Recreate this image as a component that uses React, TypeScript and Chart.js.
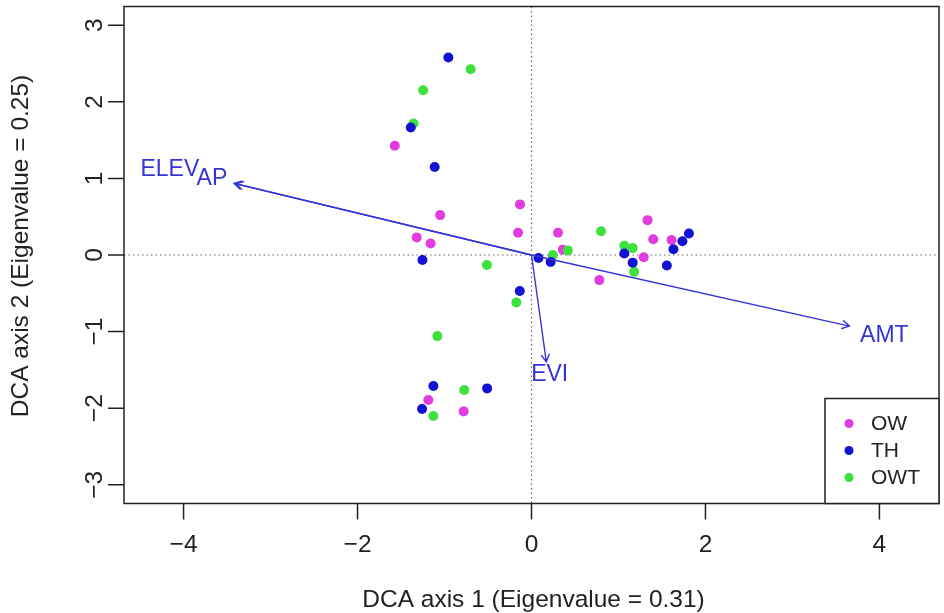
import { useEffect, useRef } from "react";
import { Chart, registerables } from "chart.js";

Chart.register(...registerables);

// Site scores on the first two DCA axes, by group
const owX = [-1.572, -0.132, -1.05, -0.155, -1.32, -1.16, 0.304, 0.36, 0.78, 1.334, 1.40, 1.29, 1.61, -1.186, -0.78];
const owY = [1.426, 0.661, 0.521, 0.29, 0.23, 0.151, 0.29, 0.07, -0.328, 0.455, 0.205, -0.03, 0.197, -1.894, -2.042];

const thX = [-0.956, -1.388, -1.113, -1.254, 0.08, 0.22, 1.067, 1.163, 1.632, 1.556, 1.735, 1.81, -0.135, -1.128, -0.51, -1.258];
const thY = [2.58, 1.666, 1.148, -0.065, -0.04, -0.09, 0.02, -0.1, 0.075, -0.138, 0.18, 0.28, -0.471, -1.711, -1.742, -2.012];

const owtX = [-0.70, -1.246, -1.357, -0.513, 0.246, 0.418, 0.80, 1.067, 1.163, 1.18, -0.174, -1.082, -0.773, -1.128];
const owtY = [2.427, 2.152, 1.718, -0.13, 0.0, 0.06, 0.31, 0.12, 0.09, -0.22, -0.619, -1.059, -1.764, -2.103];

const groupNames = ["OW", "TH", "OWT"];
const groupColors = ["#e03ce0", "#1212d0", "#3de03d"];

// Environmental vectors (envfit arrows) and their label positions
const vectorNames = ["ELEV", "AP", "AMT", "EVI"];
const vectorX = [-3.40, -3.42, 3.655, 0.17];
const vectorY = [0.93, 0.935, -0.928, -1.394];
const labelX = [-4.158, -3.674, 4.057, 0.209];
const labelY = [1.108, 0.991, -1.052, -1.567];

const xTicks = [-4, -2, 0, 2, 4];
const yTicks = [-3, -2, -1, 0, 1, 2, 3];
const xTitle = "DCA axis 1 (Eigenvalue = 0.31)";
const yTitle = "DCA axis 2 (Eigenvalue = 0.25)";

const X_MIN = -4.685;
const X_MAX = 4.685;
const Y_MIN = -3.245;
const Y_MAX = 3.245;

const FONT = '"Liberation Sans", Arial, Helvetica, sans-serif';
const AXIS_COLOR = "#222222";
const VECTOR_COLOR = "#3434d6";
const AXIS_FONT_SIZE = 24.5;

function toPoints(xs: number[], ys: number[]) {
  return xs.map((x, i) => ({ x, y: ys[i] }));
}

function label(
  ctx: CanvasRenderingContext2D,
  text: string,
  x: number,
  y: number,
  size: number,
  color: string,
  rotate = 0
) {
  ctx.save();
  ctx.translate(x, y);
  if (rotate) ctx.rotate(rotate);
  ctx.font = `${size}px ${FONT}`;
  ctx.fillStyle = color;
  ctx.textAlign = "center";
  ctx.textBaseline = "middle";
  ctx.fillText(text, 0, 0);
  ctx.restore();
}

const ordinationPlugin = {
  id: "ordination",
  beforeDatasetsDraw(chart: any) {
    const { ctx, chartArea, scales } = chart;
    const x0 = scales.x.getPixelForValue(0);
    const y0 = scales.y.getPixelForValue(0);
    ctx.save();
    ctx.strokeStyle = "#666666";
    ctx.lineWidth = 1.2;
    ctx.setLineDash([1.5, 3]);
    ctx.beginPath();
    ctx.moveTo(x0, chartArea.top);
    ctx.lineTo(x0, chartArea.bottom);
    ctx.moveTo(chartArea.left, y0);
    ctx.lineTo(chartArea.right, y0);
    ctx.stroke();
    ctx.restore();
  },
  afterDatasetsDraw(chart: any) {
    const { ctx, chartArea, scales } = chart;
    const xs = scales.x;
    const ys = scales.y;
    const ox = xs.getPixelForValue(0);
    const oy = ys.getPixelForValue(0);

    // vectors
    ctx.save();
    ctx.strokeStyle = VECTOR_COLOR;
    ctx.lineWidth = 1.4;
    ctx.lineCap = "round";
    vectorNames.forEach((_, i) => {
      const tx = xs.getPixelForValue(vectorX[i]);
      const ty = ys.getPixelForValue(vectorY[i]);
      const ang = Math.atan2(ty - oy, tx - ox);
      const head = 8;
      ctx.beginPath();
      ctx.moveTo(ox, oy);
      ctx.lineTo(tx, ty);
      ctx.moveTo(tx - head * Math.cos(ang - Math.PI / 6), ty - head * Math.sin(ang - Math.PI / 6));
      ctx.lineTo(tx, ty);
      ctx.lineTo(tx - head * Math.cos(ang + Math.PI / 6), ty - head * Math.sin(ang + Math.PI / 6));
      ctx.stroke();
    });
    ctx.restore();
    vectorNames.forEach((name, i) => {
      label(ctx, name, xs.getPixelForValue(labelX[i]), ys.getPixelForValue(labelY[i]), 23, VECTOR_COLOR);
    });

    // frame
    ctx.save();
    ctx.strokeStyle = AXIS_COLOR;
    ctx.lineWidth = 1.5;
    ctx.strokeRect(chartArea.left, chartArea.top, chartArea.right - chartArea.left, chartArea.bottom - chartArea.top);

    // ticks
    ctx.beginPath();
    xTicks.forEach((t) => {
      const px = xs.getPixelForValue(t);
      ctx.moveTo(px, chartArea.bottom);
      ctx.lineTo(px, chartArea.bottom + 16);
    });
    yTicks.forEach((t) => {
      const py = ys.getPixelForValue(t);
      ctx.moveTo(chartArea.left, py);
      ctx.lineTo(chartArea.left - 16, py);
    });
    ctx.stroke();
    ctx.restore();

    xTicks.forEach((t) => {
      label(ctx, t < 0 ? "\u2212" + Math.abs(t) : String(t), xs.getPixelForValue(t), chartArea.bottom + 42, AXIS_FONT_SIZE, AXIS_COLOR);
    });
    yTicks.forEach((t) => {
      label(ctx, t < 0 ? "\u2212" + Math.abs(t) : String(t), chartArea.left - 29, ys.getPixelForValue(t), AXIS_FONT_SIZE, AXIS_COLOR, -Math.PI / 2);
    });
    label(ctx, xTitle, (chartArea.left + chartArea.right) / 2 + 2, chartArea.bottom + 97, AXIS_FONT_SIZE, AXIS_COLOR);
    label(ctx, yTitle, 21, 246, AXIS_FONT_SIZE, AXIS_COLOR, -Math.PI / 2);

    // legend, bottom-right corner
    const lw = 114;
    const lh = 105;
    const lx = chartArea.right - lw;
    const ly = chartArea.bottom - lh;
    ctx.save();
    ctx.fillStyle = "#ffffff";
    ctx.fillRect(lx, ly, lw, lh);
    ctx.strokeStyle = AXIS_COLOR;
    ctx.lineWidth = 1.5;
    ctx.strokeRect(lx, ly, lw, lh);
    groupNames.forEach((g, i) => {
      const cy = ly + 25 + i * 27;
      ctx.fillStyle = groupColors[i];
      ctx.beginPath();
      ctx.arc(lx + 24, cy, 4.5, 0, Math.PI * 2);
      ctx.fill();
      ctx.font = `21px ${FONT}`;
      ctx.fillStyle = AXIS_COLOR;
      ctx.textAlign = "left";
      ctx.textBaseline = "middle";
      ctx.fillText(g, lx + 46, cy + 1);
    });
    ctx.restore();
  },
};

export default function App() {
  const canvasRef = useRef<HTMLCanvasElement | null>(null);

  useEffect(() => {
    document.body.style.margin = "0";
    const canvas = canvasRef.current;
    if (!canvas) return;
    const pointStyle = (color: string, order: number, label: string, data: any[]) => ({
      label,
      data,
      order,
      backgroundColor: color,
      borderColor: color,
      borderWidth: 0,
      pointRadius: 5,
      pointHoverRadius: 5,
    });
    const chart = new Chart(canvas, {
      type: "scatter",
      data: {
        datasets: [
          pointStyle(groupColors[0], 3, groupNames[0], toPoints(owX, owY)),
          pointStyle(groupColors[1], 1, groupNames[1], toPoints(thX, thY)),
          pointStyle(groupColors[2], 2, groupNames[2], toPoints(owtX, owtY)),
        ],
      },
      options: {
        animation: false,
        responsive: false,
        maintainAspectRatio: false,
        events: [],
        layout: { padding: { left: 124, top: 6.5, right: 2.5, bottom: 109.5 } },
        plugins: { legend: { display: false }, tooltip: { enabled: false } },
        scales: {
          x: { type: "linear", min: X_MIN, max: X_MAX, display: false },
          y: { type: "linear", min: Y_MIN, max: Y_MAX, display: false },
        },
      },
      plugins: [ordinationPlugin],
    });
    return () => chart.destroy();
  }, []);

  return (
    <div style={{ width: 944, height: 613, background: "#ffffff" }}>
      <canvas ref={canvasRef} width={944} height={613} style={{ display: "block" }} />
    </div>
  );
}
